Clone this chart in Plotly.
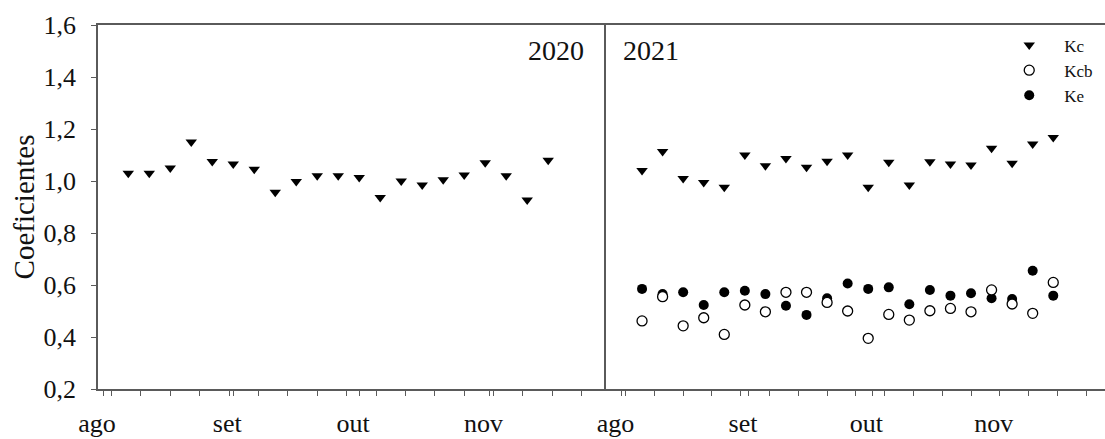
import plotly.graph_objects as go

# ---- data ----
dates_2020 = ["2020-08-07", "2020-08-12", "2020-08-17", "2020-08-22", "2020-08-27",
              "2020-09-01", "2020-09-06", "2020-09-11", "2020-09-16", "2020-09-21",
              "2020-09-26", "2020-10-01", "2020-10-06", "2020-10-11", "2020-10-16",
              "2020-10-21", "2020-10-26", "2020-10-31", "2020-11-05", "2020-11-10",
              "2020-11-15"]
kc_2020 = [1.03, 1.03, 1.05, 1.15, 1.075, 1.065, 1.045, 0.957, 0.998, 1.02, 1.02,
           1.013, 0.937, 1.00, 0.985, 1.005, 1.023, 1.07, 1.02, 0.927, 1.08]

dates_2021 = ["2021-08-06", "2021-08-11", "2021-08-16", "2021-08-21", "2021-08-26",
              "2021-08-31", "2021-09-05", "2021-09-10", "2021-09-15", "2021-09-20",
              "2021-09-25", "2021-09-30", "2021-10-05", "2021-10-10", "2021-10-15",
              "2021-10-20", "2021-10-25", "2021-10-30", "2021-11-04", "2021-11-09",
              "2021-11-14"]
kc_2021 = [1.04, 1.113, 1.01, 0.994, 0.976, 1.10, 1.059, 1.087, 1.053, 1.076, 1.10,
           0.976, 1.072, 0.985, 1.074, 1.065, 1.062, 1.126, 1.068, 1.142, 1.167]
kcb_2021 = [0.462, 0.555, 0.443, 0.474, 0.41, 0.523, 0.497, 0.572, 0.572, 0.533, 0.50,
            0.395, 0.487, 0.465, 0.501, 0.51, 0.497, 0.581, 0.527, 0.491, 0.61]
ke_2021 = [0.585, 0.565, 0.572, 0.523, 0.572, 0.578, 0.565, 0.52, 0.485, 0.549, 0.606,
           0.585, 0.591, 0.526, 0.581, 0.559, 0.568, 0.549, 0.546, 0.655, 0.559]

month_labels = ["ago", "set", "out", "nov"]
month_ticks_2020 = ["2020-08-01", "2020-09-01", "2020-10-01", "2020-11-01"]
month_ticks_2021 = ["2021-08-01", "2021-09-01", "2021-10-01", "2021-11-01"]
y_ticks = [0.2, 0.4, 0.6, 0.8, 1.0, 1.2, 1.4, 1.6]

FONT = "Liberation Serif, Times New Roman, serif"
AX = "#5a5a5a"
TXT = "#111"

fig = go.Figure()

tri = dict(symbol="triangle-down", size=10, color="black")
fig.add_trace(go.Scatter(x=dates_2020, y=kc_2020, mode="markers", marker=tri,
                         name="Kc", showlegend=False, xaxis="x", yaxis="y"))
fig.add_trace(go.Scatter(x=dates_2021, y=kc_2021, mode="markers", marker=tri,
                         name="Kc", legendrank=1, xaxis="x2", yaxis="y2"))
fig.add_trace(go.Scatter(x=dates_2021, y=ke_2021, mode="markers",
                         marker=dict(symbol="circle", size=10, color="black"),
                         name="Ke", legendrank=3, xaxis="x2", yaxis="y2"))
fig.add_trace(go.Scatter(x=dates_2021, y=kcb_2021, mode="markers",
                         marker=dict(symbol="circle", size=10, color="white",
                                     line=dict(color="black", width=1.3)),
                         name="Kcb", legendrank=2, xaxis="x2", yaxis="y2"))

split = (604 - 98) / (1105 - 98)

xcommon = dict(
    type="date", showline=True, linecolor=AX, linewidth=1.5, mirror=True,
    ticks="outside", ticklen=5, tickcolor=AX, tickwidth=1.2,
    ticktext=month_labels, showgrid=False, zeroline=False, automargin=False,
    tickfont=dict(family=FONT, size=26, color=TXT),
    ticklabelstandoff=5, ticklabelshift=-6,
)
fig.update_layout(
    width=1105, height=439,
    margin=dict(l=98, r=0, t=25, b=50),
    paper_bgcolor="white", plot_bgcolor="white",
    separators=",.",
    font=dict(family=FONT, color=TXT),
    xaxis=dict(domain=[0, split], anchor="y",
               range=["2020-07-30 19:00", "2020-11-28 07:00"],
               tickvals=month_ticks_2020,
               minor=dict(dtick=7 * 86400000, tick0="2020-08-03", ticks="outside",
                          ticklen=5, tickcolor=AX, tickwidth=1.2),
               **xcommon),
    xaxis2=dict(domain=[split, 1], anchor="y2",
                range=["2021-07-27 18:00", "2021-11-26 14:00"],
                tickvals=month_ticks_2021,
                minor=dict(dtick=7 * 86400000, tick0="2021-08-02", ticks="outside",
                           ticklen=5, tickcolor=AX, tickwidth=1.2),
                **xcommon),
    yaxis=dict(range=[0.2, 1.6], tickvals=y_ticks, tickformat=".1f",
               showline=True, linecolor=AX, linewidth=1.5, mirror=True,
               ticks="outside", ticklen=5, tickcolor=AX, tickwidth=1.2,
               showgrid=False, zeroline=False, anchor="x", automargin=False,
               ticklabelstandoff=10,
               tickfont=dict(family=FONT, size=26, color=TXT),
               title=dict(text="Coeficientes", standoff=0,
                          font=dict(family=FONT, size=29, color=TXT))),
    yaxis2=dict(range=[0.2, 1.6], matches="y", anchor="x2", automargin=False,
                showline=False, showticklabels=False, ticks="",
                showgrid=False, zeroline=False),
    legend=dict(x=0.89, y=0.993, xanchor="left", yanchor="top",
                font=dict(family=FONT, size=17, color=TXT),
                itemwidth=60, bgcolor="rgba(0,0,0,0)", tracegroupgap=0),
    annotations=[
        dict(text="2020", xref="x", yref="paper", x="2020-11-24", y=0.93,
             xanchor="right", yanchor="middle", showarrow=False,
             font=dict(family=FONT, size=28, color=TXT)),
        dict(text="2021", xref="x2", yref="paper", x="2021-08-01", y=0.93,
             xanchor="left", yanchor="middle", showarrow=False,
             font=dict(family=FONT, size=28, color=TXT)),
    ],
)

fig.write_html("out.html", config={"displayModeBar": False},
               post_script="document.body.style.margin='0';document.body.style.padding='0';")
